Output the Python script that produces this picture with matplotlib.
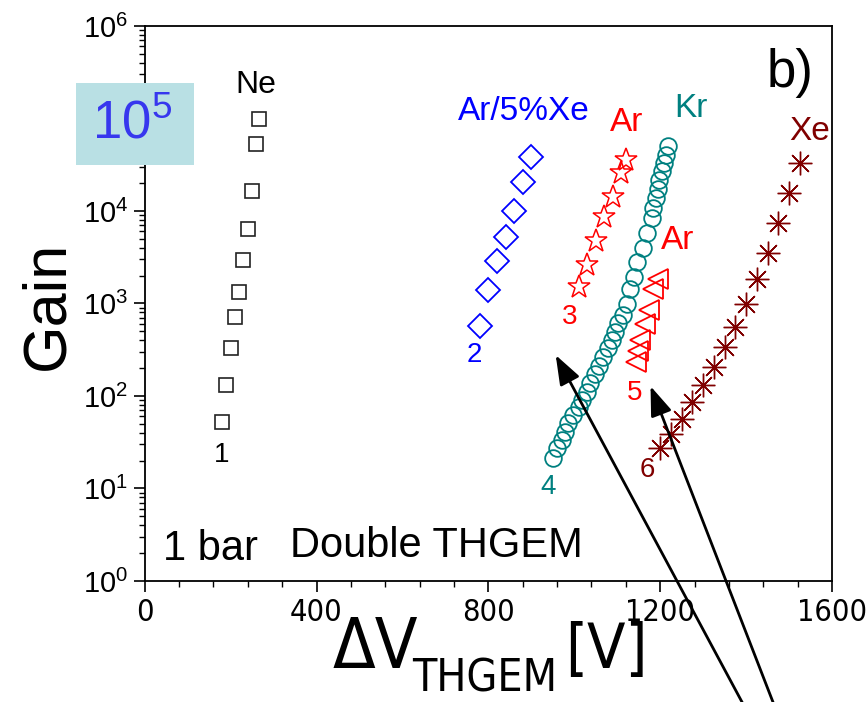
import math
import matplotlib
matplotlib.use("Agg")
import matplotlib.pyplot as plt
from matplotlib import font_manager as fm
from matplotlib.font_manager import FontProperties
from matplotlib.patches import Rectangle
from matplotlib.ticker import LogLocator, MultipleLocator, NullFormatter, FuncFormatter, FixedLocator

FONT = "Liberation Sans"

# a condensed sans face for the horizontal axis, if one is installed
_cond = None
for f in fm.fontManager.ttflist:
    nm = f.name + " " + str(f.stretch)
    if ("Narrow" in nm or "ondensed" in nm) and "Sans" in f.name \
            and f.style == "normal" and f.weight in (400, "normal", "regular"):
        _cond = f.fname
        break


def cond_props(size):
    if _cond:
        return FontProperties(fname=_cond, size=size)
    return FontProperties(family=FONT, size=size)


plt.rcParams["font.family"] = [FONT, "DejaVu Sans"]
plt.rcParams["mathtext.fontset"] = "custom"
plt.rcParams["mathtext.rm"] = FONT
plt.rcParams["mathtext.it"] = FONT + ":italic"
plt.rcParams["mathtext.bf"] = FONT + ":bold"

# ---- gain curves, double THGEM at 1 bar ----
ne_v = [180, 190, 200, 210, 220, 230, 240, 250, 260, 265]
ne_gain = [52, 132, 330, 720, 1320, 2950, 6460, 16600, 52500, 99000]

arxe_v = [780, 800, 820, 840, 860, 880, 900]
arxe_gain = [575, 1410, 2860, 5250, 10000, 20400, 38600]

ar_star_v = [1010, 1030, 1050, 1070, 1090, 1110, 1120]
ar_star_gain = [1500, 2630, 4790, 8710, 14100, 25700, 35500]

kr_v = [950, 959, 971, 979, 986, 998, 1010, 1018, 1029, 1037, 1048, 1058,
        1068, 1079, 1087, 1095, 1103, 1114, 1122, 1130, 1138, 1146, 1159,
        1169, 1180, 1184, 1190, 1194, 1198, 1204, 1208, 1213, 1218]
kr_gain = [21.5, 27.2, 33.4, 41.1, 50.7, 62.4, 76.6, 90.6, 111, 137, 173, 212,
           266, 327, 403, 495, 611, 752, 977, 1426, 1950, 2786, 3954,
           5741, 8453, 10690, 13710, 17180, 21630, 27290, 32810, 40270, 50800]

ar_tri_v = [1143, 1149, 1154, 1164, 1174, 1184, 1194]
ar_tri_gain = [234, 309, 403, 603, 851, 1430, 1860]

xe_v = [1200, 1225, 1250, 1275, 1300, 1325, 1350, 1375, 1400, 1425, 1450,
        1475, 1500, 1525]
xe_gain = [27.6, 38.5, 56.4, 85.5, 131.5, 207.5, 339, 562, 977, 1841, 3491,
           7362, 15490, 33270]

x_ticks = [0, 400, 800, 1200, 1600]
badge_exp = 5  # decade whose axis label sits under the highlight badge

BLUE = "#0000ff"
RED = "#ff0000"
TEAL = "#008080"
MAROON = "#800000"

fig = plt.figure(figsize=(8.67, 7.02), dpi=100)
ax = fig.add_axes([0.1669, 0.1724, 0.7927, 0.7906])

ax.plot(ne_v, ne_gain, ls="none", marker="s", ms=10, mfc="none",
        mec="#222222", mew=1.2)
ax.plot(arxe_v, arxe_gain, ls="none", marker="D", ms=12, mfc="none",
        mec=BLUE, mew=1.3)
ax.plot(ar_star_v, ar_star_gain, ls="none", marker="*", ms=17, mfc="none",
        mec=RED, mew=1.1)
ax.plot(kr_v, kr_gain, ls="none", marker="o", ms=12, mfc="none",
        mec=TEAL, mew=1.3)
ax.plot(ar_tri_v, ar_tri_gain, ls="none", marker="<", ms=15, mfc="none",
        mec=RED, mew=1.3)
ax.plot(xe_v, xe_gain, ls="none", marker=(8, 2, 0), ms=17,
        mec=MAROON, mew=1.0)

ax.set_xlim(0, 1600)
ax.set_yscale("log")
ax.set_ylim(1, 1e6)


def decade_label(v, pos):
    e = round(math.log10(v))
    return "" if e == badge_exp else r"$10^{%d}$" % e


ax.xaxis.set_major_locator(FixedLocator(x_ticks))
ax.xaxis.set_minor_locator(MultipleLocator(80))
ax.yaxis.set_major_locator(LogLocator(base=10, numticks=10))
ax.yaxis.set_minor_locator(LogLocator(base=10, subs=range(2, 10), numticks=100))
ax.yaxis.set_minor_formatter(NullFormatter())
ax.yaxis.set_major_formatter(FuncFormatter(decade_label))

ax.tick_params(which="major", direction="out", length=8, width=1.2,
               top=False, right=False, pad=4)
ax.tick_params(which="minor", direction="out", length=4, width=1.0,
               top=False, right=False)
ax.tick_params(axis="y", labelsize=21)
for lab in ax.get_xticklabels():
    lab.set_fontproperties(cond_props(20 if not _cond else 22))
for s in ax.spines.values():
    s.set_linewidth(1.3)

# series labels
t_kw = dict(transform=ax.transAxes, ha="center", va="center")
ax.text(0.162, 0.893, "Ne", fontsize=23, color="black", **t_kw)
ax.text(0.552, 0.845, "Ar/5%Xe", fontsize=24, color=BLUE, **t_kw)
ax.text(0.701, 0.826, "Ar", fontsize=24, color=RED, **t_kw)
ax.text(0.795, 0.852, "Kr", fontsize=24, color=TEAL, **t_kw)
ax.text(0.775, 0.614, "Ar", fontsize=24, color=RED, **t_kw)
ax.text(0.968, 0.810, "Xe", fontsize=24, color=MAROON, **t_kw)
ax.text(0.1125, 0.227, "1", fontsize=20, color="black", **t_kw)
ax.text(0.479, 0.407, "2", fontsize=20, color=BLUE, **t_kw)
ax.text(0.619, 0.476, "3", fontsize=20, color=RED, **t_kw)
ax.text(0.587, 0.169, "4", fontsize=20, color=TEAL, **t_kw)
ax.text(0.713, 0.339, "5", fontsize=20, color=RED, **t_kw)
ax.text(0.731, 0.200, "6", fontsize=20, color=MAROON, **t_kw)
ax.text(0.939, 0.915, "b)", fontsize=38, color="black", **t_kw)
ax.text(0.096, 0.058, "1 bar", fontsize=30, color="black", **t_kw)
ax.text(0.424, 0.063, "Double THGEM", fontsize=30, color="black", **t_kw)

# arrows rising from below the frame
arrow_kw = dict(arrowstyle="-|>,head_length=0.9,head_width=0.33",
                color="black", lw=2, mutation_scale=20, shrinkA=0, shrinkB=0)
ax.annotate("", xy=(0.598, 0.407), xycoords="axes fraction",
            xytext=(0.8645, -0.02), textcoords="figure fraction",
            arrowprops=arrow_kw, annotation_clip=False)
ax.annotate("", xy=(0.736, 0.351), xycoords="axes fraction",
            xytext=(0.8978, -0.02), textcoords="figure fraction",
            arrowprops=arrow_kw, annotation_clip=False)

# highlighted maximum-gain badge
fig.add_artist(Rectangle((0.0877, 0.765), 0.1361, 0.1168,
                         transform=fig.transFigure, facecolor="#b9e0e4",
                         edgecolor="none", zorder=5))
fig.text(0.1522, 0.823, r"$10^{%d}$" % badge_exp, fontsize=38,
         color="#3737ee", ha="center", va="center", zorder=6)

# axis titles
fig.text(0.0554, 0.5655, "Gain", fontsize=44, rotation=90,
         ha="center", va="center")
fig.text(333 / 867, 1 - 668 / 702, "\u0394V", ha="left", va="baseline",
         fontproperties=cond_props(50 if _cond else 48))
fig.text(412 / 867, 1 - 692 / 702, "THGEM", ha="left", va="baseline",
         fontproperties=cond_props(32 if _cond else 27))
fig.text(565 / 867, 1 - 668 / 702, "[V]", ha="left", va="baseline",
         fontproperties=cond_props(45 if _cond else 46))

fig.savefig("out.png", dpi=100)
